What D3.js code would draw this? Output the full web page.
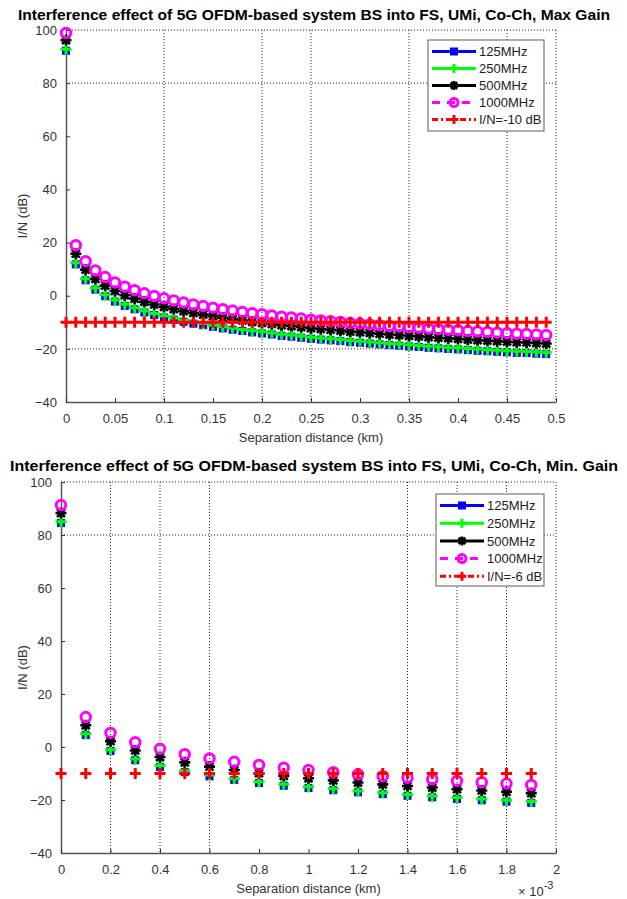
<!DOCTYPE html>
<html>
<head>
<meta charset="utf-8">
<script src="https://cdn.jsdelivr.net/npm/d3@7"></script>
<style>
  body { margin: 0; background: #fff; }
  text { font-family: "Liberation Sans", Arial, sans-serif; }
</style>
</head>
<body>
<div id="chart"></div>
<script>
// ---- data ----
// top panel: separation distance in km
const topX = [0, 0.01, 0.02, 0.03, 0.04, 0.05, 0.06, 0.07, 0.08, 0.09,
  0.10, 0.11, 0.12, 0.13, 0.14, 0.15, 0.16, 0.17, 0.18, 0.19,
  0.20, 0.21, 0.22, 0.23, 0.24, 0.25, 0.26, 0.27, 0.28, 0.29,
  0.30, 0.31, 0.32, 0.33, 0.34, 0.35, 0.36, 0.37, 0.38, 0.39,
  0.40, 0.41, 0.42, 0.43, 0.44, 0.45, 0.46, 0.47, 0.48, 0.49];
const top125 = [92.2, 11.8, 5.8, 2.3, -0.2, -2.2, -3.8, -5.1, -6.3, -7.3,
  -8.2, -9.0, -9.8, -10.5, -11.1, -11.7, -12.3, -12.8, -13.3, -13.8,
  -14.2, -14.6, -15.1, -15.4, -15.8, -16.2, -16.5, -16.8, -17.1, -17.5,
  -17.7, -18.0, -18.3, -18.6, -18.8, -19.1, -19.3, -19.6, -19.8, -20.0,
  -20.2, -20.5, -20.7, -20.9, -21.1, -21.3, -21.5, -21.6, -21.8, -22.0];
const top250 = [92.8, 12.4, 6.4, 2.9, 0.4, -1.6, -3.2, -4.5, -5.7, -6.7,
  -7.6, -8.4, -9.2, -9.9, -10.5, -11.1, -11.7, -12.2, -12.7, -13.2,
  -13.6, -14.0, -14.5, -14.8, -15.2, -15.6, -15.9, -16.2, -16.5, -16.9,
  -17.1, -17.4, -17.7, -18.0, -18.2, -18.5, -18.7, -19.0, -19.2, -19.4,
  -19.6, -19.9, -20.1, -20.3, -20.5, -20.7, -20.9, -21.0, -21.2, -21.4];
const top500 = [96.2, 15.8, 9.8, 6.3, 3.8, 1.8, 0.2, -1.1, -2.3, -3.3,
  -4.2, -5.0, -5.8, -6.5, -7.1, -7.7, -8.3, -8.8, -9.3, -9.8,
  -10.2, -10.6, -11.1, -11.4, -11.8, -12.2, -12.5, -12.8, -13.1, -13.5,
  -13.7, -14.0, -14.3, -14.6, -14.8, -15.1, -15.3, -15.6, -15.8, -16.0,
  -16.2, -16.5, -16.7, -16.9, -17.1, -17.3, -17.5, -17.6, -17.8, -18.0];
const top1000 = [98.9, 19.0, 13.0, 9.5, 7.0, 5.0, 3.4, 2.1, 0.9, -0.1,
  -1.0, -1.8, -2.6, -3.3, -3.9, -4.5, -5.1, -5.6, -6.1, -6.6,
  -7.0, -7.4, -7.9, -8.2, -8.6, -9.0, -9.3, -9.6, -9.9, -10.3,
  -10.5, -10.8, -11.1, -11.4, -11.6, -11.9, -12.1, -12.4, -12.6, -12.8,
  -13.0, -13.3, -13.5, -13.7, -13.9, -14.1, -14.3, -14.4, -14.6, -14.8];
const topThresh = [-10, -10, -10, -10, -10, -10, -10, -10, -10, -10,
  -10, -10, -10, -10, -10, -10, -10, -10, -10, -10,
  -10, -10, -10, -10, -10, -10, -10, -10, -10, -10,
  -10, -10, -10, -10, -10, -10, -10, -10, -10, -10,
  -10, -10, -10, -10, -10, -10, -10, -10, -10, -10];

// bottom panel: separation distance in units of 1e-3 km
const botX = [0, 0.1, 0.2, 0.3, 0.4, 0.5, 0.6, 0.7, 0.8, 0.9,
  1.0, 1.1, 1.2, 1.3, 1.4, 1.5, 1.6, 1.7, 1.8, 1.9];
const bot125 = [84.5, 4.5, -1.5, -5.0, -7.5, -9.5, -11.1, -12.4, -13.6, -14.6,
  -15.5, -16.3, -17.1, -17.8, -18.4, -19.0, -19.6, -20.1, -20.6, -21.1];
const bot250 = [85.0, 5.0, -1.0, -4.5, -7.0, -9.0, -10.6, -11.9, -13.1, -14.1,
  -15.0, -15.8, -16.6, -17.3, -17.9, -18.5, -19.1, -19.6, -20.1, -20.6];
const bot500 = [88.3, 8.2, 2.2, -1.3, -3.8, -5.8, -7.4, -8.7, -9.9, -10.9,
  -11.8, -12.6, -13.4, -14.1, -14.7, -15.3, -15.9, -16.4, -16.9, -17.4];
const bot1000 = [91.3, 11.3, 5.3, 1.8, -0.7, -2.7, -4.3, -5.6, -6.8, -7.8,
  -8.7, -9.5, -10.3, -11.0, -11.6, -12.2, -12.8, -13.3, -13.8, -14.3];
const botThresh = [-10, -10, -10, -10, -10, -10, -10, -10, -10, -10,
  -10, -10, -10, -10, -10, -10, -10, -10, -10, -10];

// ticks / labels
const yTicks = [-40, -20, 0, 20, 40, 60, 80, 100];
const topXTicks = [0, 0.05, 0.1, 0.15, 0.2, 0.25, 0.3, 0.35, 0.4, 0.45, 0.5];
const botXTicks = [0, 0.2, 0.4, 0.6, 0.8, 1, 1.2, 1.4, 1.6, 1.8, 2];
// grid lines that survive in the reference image
const topGridX = [0.1, 0.2, 0.25, 0.35, 0.45, 0.5];
const topGridY = [100, 80, -20];
const botGridX = [0.2, 0.4, 0.6, 1.4, 1.6, 1.8, 2];
const botGridY = [100, 80];
const topLegend = ["125MHz", "250MHz", "500MHz", "1000MHz", "I/N=-10 dB"];
const botLegend = ["125MHz", "250MHz", "500MHz", "1000MHz", "I/N=-6 dB"];

// series styles
const styles = [
  {color: "#0000ff", marker: "square", dash: null},
  {color: "#00ff00", marker: "plus", dash: null},
  {color: "#000000", marker: "star", dash: null},
  {color: "#ff00ff", marker: "circle", dash: "8,7"},
  {color: "#ff0000", marker: "plus", dash: "6,3,2,3"}
];

const svg = d3.select("#chart").append("svg")
  .attr("width", 627).attr("height", 899);

function drawMarker(g, kind, cx, cy, color, s) {
  if (kind === "square") {
    g.append("rect").attr("x", cx - s / 2).attr("y", cy - s / 2)
      .attr("width", s).attr("height", s)
      .attr("fill", color).attr("stroke", color).attr("stroke-width", 1);
  } else if (kind === "plus") {
    g.append("path")
      .attr("d", `M${cx - s / 2},${cy}H${cx + s / 2}M${cx},${cy - s / 2}V${cy + s / 2}`)
      .attr("stroke", color).attr("stroke-width", 3).attr("fill", "none");
  } else if (kind === "star") {
    const h = s / 2, d = s * 0.36;
    g.append("path")
      .attr("d", `M${cx - h},${cy}H${cx + h}M${cx},${cy - h}V${cy + h}` +
        `M${cx - d},${cy - d}L${cx + d},${cy + d}M${cx - d},${cy + d}L${cx + d},${cy - d}`)
      .attr("stroke", color).attr("stroke-width", 2.6).attr("fill", "none");
  } else {
    g.append("circle").attr("cx", cx).attr("cy", cy).attr("r", s / 2)
      .attr("fill", "none").attr("stroke", color).attr("stroke-width", 3);
  }
}

function drawPanel(o) {
  const x = d3.scaleLinear().domain(o.xDomain).range([o.left, o.right]);
  const y = d3.scaleLinear().domain([-40, 100]).range([o.bottom, o.top]);
  const g = svg.append("g");

  // title
  g.append("text")
    .attr("x", 314).attr("y", o.titleY)
    .attr("text-anchor", "middle")
    .attr("font-size", "14px").attr("font-weight", "bold")
    .attr("textLength", o.titleLen).attr("lengthAdjust", "spacingAndGlyphs")
    .text(o.title);

  // grid
  g.selectAll(".gx").data(o.gridX).enter().append("line")
    .attr("x1", d => x(d)).attr("x2", d => x(d))
    .attr("y1", o.top).attr("y2", o.bottom)
    .attr("stroke", "#222").attr("stroke-width", 1).attr("stroke-dasharray", "1,2");
  g.selectAll(".gy").data(o.gridY).enter().append("line")
    .attr("x1", o.left).attr("x2", o.right)
    .attr("y1", d => y(d)).attr("y2", d => y(d))
    .attr("stroke", "#222").attr("stroke-width", 1).attr("stroke-dasharray", "1,2");

  // axes (MATLAB style: inward ticks, gray line)
  const yAxis = g.append("g").attr("transform", `translate(${o.left},0)`)
    .call(d3.axisLeft(y).tickValues(yTicks).tickSizeInner(-4).tickSizeOuter(0).tickPadding(9));
  const xAxis = g.append("g").attr("transform", `translate(0,${o.bottom})`)
    .call(d3.axisBottom(x).tickValues(o.xTicks).tickSizeInner(-4).tickSizeOuter(0)
      .tickPadding(12).tickFormat(o.xFmt));
  [xAxis, yAxis].forEach(a => {
    a.select(".domain").attr("stroke", "#555").attr("stroke-width", 1.5);
    a.selectAll(".tick line").attr("stroke", "#333");
    a.selectAll(".tick text").attr("fill", "#333")
      .attr("font-size", "13px").attr("font-family", "Liberation Sans, Arial, sans-serif");
  });

  // axis labels
  g.append("text")
    .attr("transform", `translate(22,${(o.top + o.bottom) / 2}) rotate(-90)`)
    .attr("text-anchor", "middle").attr("dy", "0.35em")
    .attr("font-size", "13px").attr("fill", "#333")
    .text("I/N (dB)");
  g.append("text")
    .attr("x", (o.left + o.right) / 2).attr("y", o.bottom + 40)
    .attr("text-anchor", "middle")
    .attr("font-size", "13px").attr("fill", "#333")
    .text("Separation distance (km)");

  // markers only, drawn series by series
  o.series.forEach((vals, i) => {
    const st = styles[i];
    const sg = g.append("g");
    vals.forEach((v, j) => {
      const size = st.marker === "square" ? 7 : st.marker === "circle" ? 9.5 : 11;
      drawMarker(sg, st.marker, x(o.xs[j]), y(v), st.color, size);
    });
  });

  // legend
  const lg = g.append("g");
  lg.append("rect")
    .attr("x", o.legend.x).attr("y", o.legend.y)
    .attr("width", o.legend.w).attr("height", o.legend.h)
    .attr("fill", "#fff").attr("stroke", "#777").attr("stroke-width", 1.2);
  o.legendLabels.forEach((lab, i) => {
    const st = styles[i];
    const ry = o.legend.y + 11.5 + i * o.legend.step;
    const lx0 = o.legend.x + 4, lx1 = lx0 + 44, mx = (lx0 + lx1) / 2;
    lg.append("line").attr("x1", lx0).attr("x2", lx1).attr("y1", ry).attr("y2", ry)
      .attr("stroke", st.color).attr("stroke-width", 3)
      .attr("stroke-dasharray", st.dash);
    const size = st.marker === "square" ? 7 : st.marker === "circle" ? 8 : 9;
    drawMarker(lg, st.marker, mx, ry, st.color, size);
    lg.append("text").attr("x", lx1 + 3).attr("y", ry).attr("dy", "0.36em")
      .attr("font-size", "13px").attr("fill", "#222")
      .text(lab);
  });

  return {x, y, g};
}

drawPanel({
  title: "Interference effect of 5G OFDM-based system BS into FS, UMi, Co-Ch, Max Gain",
  titleY: 20, titleLen: 592,
  left: 66, right: 556, top: 30, bottom: 402,
  xDomain: [0, 0.5], xTicks: topXTicks, xFmt: d3.format("~g"),
  gridX: topGridX, gridY: topGridY,
  xs: topX, series: [top125, top250, top500, top1000, topThresh],
  legend: {x: 428, y: 40, w: 116, h: 91, step: 17},
  legendLabels: topLegend
});

const bot = drawPanel({
  title: "Interference effect of 5G OFDM-based system BS into FS, UMi, Co-Ch, Min. Gain",
  titleY: 471, titleLen: 608,
  left: 61, right: 556, top: 482, bottom: 853,
  xDomain: [0, 2], xTicks: botXTicks, xFmt: d3.format("~g"),
  gridX: botGridX, gridY: botGridY,
  xs: botX, series: [bot125, bot250, bot500, bot1000, botThresh],
  legend: {x: 436, y: 494, w: 108, h: 92, step: 17.7},
  legendLabels: botLegend
});

// x10^-3 exponent label for the bottom axis
const ex = bot.g.append("text").attr("x", 518).attr("y", 896)
  .attr("font-size", "13px").attr("fill", "#333");
ex.append("tspan").text("\u00d7 10");
ex.append("tspan").attr("dy", -7).attr("font-size", "11px").text("-3");
</script>
</body>
</html>
